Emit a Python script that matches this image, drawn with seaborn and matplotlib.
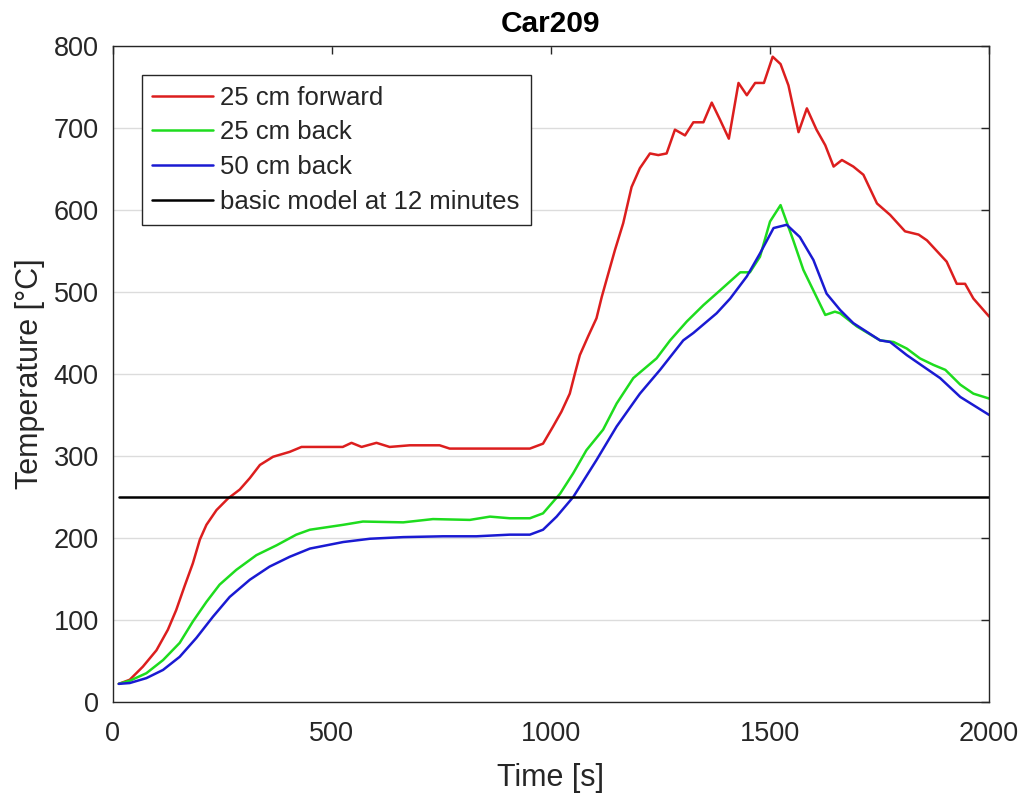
import numpy as np
import pandas as pd
import matplotlib
matplotlib.use("Agg")
import matplotlib.pyplot as plt
import seaborn as sns

# Measured gas temperatures, Car209
t_fwd25 = [14, 39, 69, 100, 126, 145, 164, 183, 199, 214, 237, 263, 290, 313, 336, 366, 404, 431,
           525, 545, 568, 602, 632, 678, 746, 769, 868, 952, 982, 1005, 1024, 1043, 1055, 1066,
           1085, 1104, 1116, 1127, 1146, 1165, 1184, 1203, 1226,
           1245, 1264, 1283, 1306, 1325, 1348, 1367, 1386, 1406, 1428, 1447, 1466, 1486, 1506, 1524,
           1542, 1565, 1584, 1606, 1626, 1645, 1664, 1690, 1713, 1744, 1774, 1808, 1839, 1858, 1903,
           1926, 1945, 1964, 2000]
T_fwd25 = [22, 27, 43, 63, 88, 112, 141, 169, 198, 216, 234, 248, 259, 273, 289, 299, 305, 311,
           311, 316, 311, 316, 311, 313, 313, 309, 309, 309, 315, 336, 354, 376, 401, 423,
           446, 468, 494, 515, 551, 584, 628, 651, 669,
           667, 669, 698, 691, 707, 707, 731, 710, 687, 755, 740, 755, 755, 787, 778,
           752, 695, 724, 698, 679, 653, 661, 653, 643, 608, 594, 574, 570, 563, 537,
           510, 510, 492, 470]

t_back25 = [14, 40, 77, 115, 153, 183, 214, 244, 282, 328, 374, 419, 450, 526, 571, 663, 731, 815,
            861, 906, 952, 982, 1021, 1051, 1081, 1119, 1150, 1188, 1241, 1272, 1310, 1348, 1386,
            1409, 1432, 1454, 1477, 1500, 1524, 1553, 1576, 1606, 1626, 1648, 1660, 1698, 1751,
            1782, 1812, 1842, 1873, 1900, 1934, 1964, 2000]
T_back25 = [22, 26, 35, 51, 72, 98, 122, 143, 161, 179, 191, 204, 210, 216, 220, 219, 223, 222,
            226, 224, 224, 230, 254, 279, 307, 332, 364, 395, 419, 441, 464, 484, 502,
            513, 524, 524, 543, 586, 606, 563, 527, 494, 472, 476, 474, 458, 441,
            439, 431, 419, 411, 405, 387, 376, 370]

t_back50 = [14, 39, 77, 115, 153, 191, 229, 267, 313, 358, 404, 450, 526, 587, 663, 754, 830, 906,
            952, 982, 1013, 1051, 1104, 1150, 1203, 1249, 1302, 1325, 1378, 1409, 1447, 1477,
            1508, 1538, 1568, 1599, 1629, 1660, 1690, 1751, 1774, 1812, 1850, 1888, 1934, 2000]
T_back50 = [22, 23, 29, 39, 55, 78, 104, 128, 149, 165, 177, 187, 195, 199, 201, 202, 202, 204,
            204, 210, 226, 250, 295, 336, 376, 405, 441, 450, 474, 492, 519, 547,
            578, 582, 567, 539, 498, 478, 462, 441, 439, 423, 409, 395, 372, 350]

t_model = [14, 2000]
T_model = [250, 250]

series_names = ["25 cm forward", "25 cm back", "50 cm back", "basic model at 12 minutes"]
series_colors = ["#dc1e1e", "#1edc1e", "#1a1ad2", "#000000"]

frames = []
for name, t, T in zip(series_names,
                      [t_fwd25, t_back25, t_back50, t_model],
                      [T_fwd25, T_back25, T_back50, T_model]):
    frames.append(pd.DataFrame({"Time": t, "Temperature": T, "series": name}))
df = pd.concat(frames, ignore_index=True)

sns.set_style("white")
plt.rcParams["font.family"] = ["Liberation Sans", "DejaVu Sans"]

fig = plt.figure(figsize=(10.24, 7.94), dpi=100)
ax = fig.add_axes([0.110, 0.116, 0.856, 0.826])

ax.yaxis.grid(True, color="#dcdcdc", linewidth=1.0)
ax.set_axisbelow(True)

sns.lineplot(data=df, x="Time", y="Temperature", hue="series", hue_order=series_names,
             palette=dict(zip(series_names, series_colors)), estimator=None, sort=False,
             linewidth=1.8, ax=ax, legend=True)
# heavier reference line
for line in ax.get_lines():
    if line.get_label() == series_names[3]:
        line.set_linewidth(2.4)

ax.set_xlim(0, 2000)
ax.set_ylim(0, 800)
ax.set_xticks([0, 500, 1000, 1500, 2000])
ax.set_yticks(range(0, 801, 100))
ax.tick_params(axis="both", direction="in", length=6, width=1, colors="#262626",
               labelsize=19.5, top=True, right=True)
ax.tick_params(axis="x", pad=14)
ax.tick_params(axis="y", pad=10)
for sp in ax.spines.values():
    sp.set_visible(True)
    sp.set_color("#262626")
    sp.set_linewidth(1.0)

ax.set_xlabel("Time [s]", fontsize=22, color="#262626", labelpad=11)
ax.set_ylabel("Temperature [°C]", fontsize=22, color="#262626", labelpad=6)
ax.set_title("Car209", fontsize=21.5, fontweight="bold", color="#000000", pad=10)

handles, labels = ax.get_legend_handles_labels()
for h in handles:
    h.set_linewidth(1.8)
leg = ax.legend(handles, labels, loc="upper left", bbox_to_anchor=(0.033, 0.956),
                fontsize=18.5, frameon=True, fancybox=False, edgecolor="#262626",
                framealpha=1, borderpad=0.42, labelspacing=0.42, handlelength=2.35,
                handletextpad=0.3, borderaxespad=0)
leg.get_frame().set_linewidth(1.0)

fig.savefig("out.png", dpi=100)
